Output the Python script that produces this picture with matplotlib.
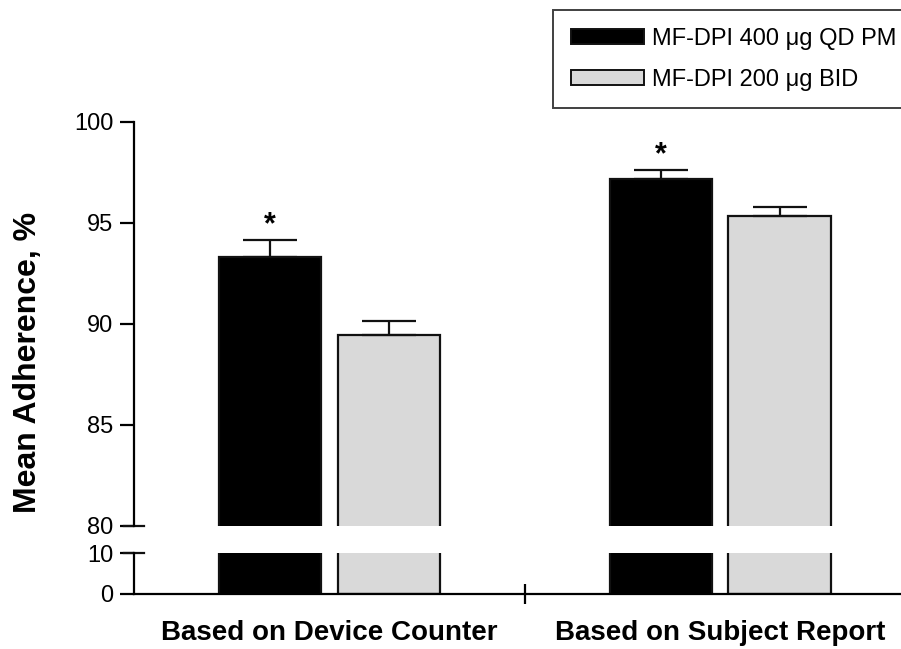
import numpy as np
import matplotlib.pyplot as plt
from matplotlib.patches import Patch

plt.rcParams["font.family"] = ["Liberation Sans", "DejaVu Sans"]

categories = ["Based on Device Counter", "Based on Subject Report"]
series_names = ["MF-DPI 400 \u03bcg QD PM", "MF-DPI 200 \u03bcg BID"]
qd_pm = [93.3, 97.2]
qd_pm_err = [0.85, 0.4]
bid = [89.45, 95.35]
bid_err = [0.7, 0.45]
significant = [True, True]

colors = ["#000000", "#d9d9d9"]
x = np.arange(len(categories))
width = 0.262
offset = 0.152

fig = plt.figure(figsize=(9.01, 6.49), dpi=100)
left, right = 134 / 901, 1.0
ax_top = fig.add_axes([left, 1 - 526 / 649, right - left, (526 - 122) / 649])
ax_bot = fig.add_axes([left, 1 - 594 / 649, right - left, (594 - 553) / 649])

for ax in (ax_top, ax_bot):
    for vals, pos, c in ((qd_pm, x - offset, colors[0]), (bid, x + offset, colors[1])):
        ax.bar(pos, vals, width, color=c, edgecolor="#111111", linewidth=1.6, zorder=2)
    ax.set_xlim(-0.501, 1.463)
    for s in ("top", "right"):
        ax.spines[s].set_visible(False)
    ax.spines["left"].set_linewidth(1.6)
    ax.spines["bottom"].set_linewidth(1.6)
    ax.tick_params(axis="y", length=10, width=1.6, labelsize=17, pad=5)

# error bars (upper caps only) on the upper part
ax_top.errorbar(x - offset, qd_pm, yerr=[np.zeros(2), qd_pm_err], fmt="none",
                ecolor="#111111", elinewidth=1.6, capsize=19.5, capthick=1.6, zorder=3)
ax_top.errorbar(x + offset, bid, yerr=[np.zeros(2), bid_err], fmt="none",
                ecolor="#111111", elinewidth=1.6, capsize=19.5, capthick=1.6, zorder=3)
for i, sig in enumerate(significant):
    if sig:
        ax_top.text(x[i] - offset, qd_pm[i] + qd_pm_err[i] + 0.0, "*", ha="center",
                    va="bottom", fontsize=22, fontweight="bold")

ax_top.set_ylim(80, 100)
ax_top.set_yticks([80, 85, 90, 95, 100])
ax_top.spines["bottom"].set_visible(False)
ax_top.set_xticks([])

ax_bot.set_ylim(0, 10)
ax_bot.set_yticks([0, 10])
ax_bot.set_xticks([0.5])
ax_bot.set_xticklabels([""])
ax_bot.tick_params(axis="x", direction="inout", length=14, width=1.6)

# break marks on the y axis
brk = 10 / (901 * (right - left))
ax_top.plot([-brk, brk], [0, 0], transform=ax_top.transAxes, color="#111111",
            lw=1.6, clip_on=False)
ax_bot.plot([-brk, brk], [1, 1], transform=ax_bot.transAxes, color="#111111",
            lw=1.6, clip_on=False)

for i, cat in enumerate(categories):
    ax_bot.text(x[i], -0.95, cat, transform=ax_bot.get_xaxis_transform(),
                ha="center", va="center", fontsize=20, fontweight="bold")

fig.text(0.031, 1 - 362 / 649, "Mean Adherence, %", rotation=90, ha="center",
         va="center", fontsize=23, fontweight="bold")

handles = [Patch(facecolor=c, edgecolor="#111111", linewidth=1.4) for c in colors]
leg = fig.legend(handles, series_names, loc="upper left",
                 bbox_to_anchor=(553 / 901, 1 - 10 / 649), fontsize=17,
                 frameon=True, fancybox=False, edgecolor="#111111",
                 handlelength=3.1, handleheight=0.6, labelspacing=0.8,
                 handletextpad=0.35, borderpad=0.75, borderaxespad=0)
leg.get_frame().set_linewidth(1.4)

fig.savefig("out.png", dpi=100)
